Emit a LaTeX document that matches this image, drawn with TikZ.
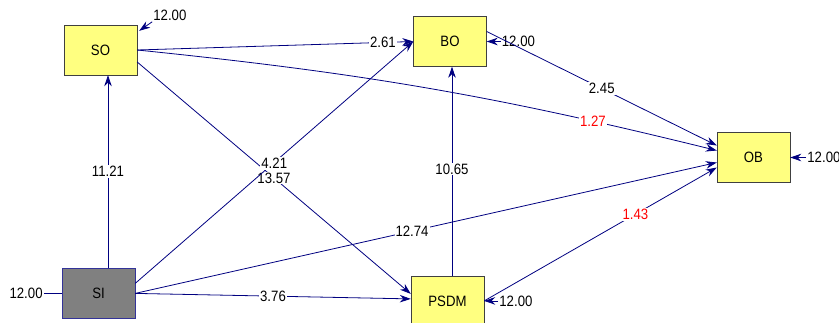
\documentclass[tikz,border=0pt]{standalone}
\usepackage{fontspec}
\setmainfont[FakeStretch=0.88]{Liberation Sans}
\usetikzlibrary{arrows.meta,positioning}
\definecolor{pathblue}{RGB}{0,0,128}
\definecolor{boxyellow}{RGB}{255,255,128}
\definecolor{latentgray}{RGB}{128,128,128}
\tikzset{->, % paths are directed
>={Stealth[length=11pt,width=7.5pt]}, % filled arrow heads
every node/.style={font=\fontsize{15}{17}\selectfont}, % one size for every text
}

\begin{document}
\begin{tikzpicture}[x=1pt, y=-1pt,
	var/.style={rectangle, draw=black!75, fill=boxyellow, minimum width=73pt, minimum height=50pt, inner sep=0pt},
	link/.style={draw=pathblue, line width=0.8pt},
	coef/.style={fill=white, inner sep=1pt},
	err/.style={inner sep=1pt}]
\useasboundingbox (0,0) rectangle (839,322);
\node[var] (SO) at (100.5,50) {SO};
\node[var, fill=latentgray, draw=pathblue!80, below=193pt of SO, xshift=-2pt] (SI) {SI};
\node[var] (BO) at (450,41.5) {BO};
\node[var, below=209pt of BO, xshift=-2.5pt] (PSDM) {PSDM};
\node[var] (OB) at (753.5,157.5) {OB};
% error terms
\node[err, anchor=south west] (eSO) at ([xshift=15pt,yshift=3pt]SO.north east) {12.00};
\node[err, right=14pt of BO] (eBO) {12.00};
\node[err, right=16pt of OB] (eOB) {12.00};
\node[err, right=14pt of PSDM] (ePSDM) {12.00};
\node[err, left=18pt of SI] (eSI) {12.00};
\draw[link] (eSO.south west) -- ([xshift=2pt,yshift=-6pt]SO.north east);
\draw[link] (eBO) -- (BO);
\draw[link] (eOB) -- (OB);
\draw[link] (ePSDM) -- (PSDM);
\draw[link, -] (eSI) -- (SI);
% paths
\draw[link] ([xshift=9.5pt]SI.north) -- node[coef, pos=.5] {11.21} ([xshift=9.5pt]SI.north |- SO.south);
\draw[link] ([xshift=4.5pt]PSDM.north) -- node[coef, pos=.51] {10.65} ([xshift=4.5pt]PSDM.north |- BO.south);
\draw[link] (SO.east) -- node[coef, pos=.89] {2.61} (BO.west);
\draw[link] (SO.east) to[bend left=4] node[coef, pos=.8, text=red] {1.27} ([yshift=7pt]OB.west);
\draw[link] ([yshift=-12pt]SO.east) -- node[coef, pos=.5] {13.57} ([yshift=7pt]PSDM.west);
\draw[link] ([yshift=10pt]SI.east) -- node[coef, pos=.5, yshift=-1pt] {4.21} (BO.west);
\draw[link] (SI.east) -- node[coef, pos=.476] {12.74} ([yshift=-5pt]OB.west);
\draw[link] (SI.east) -- node[coef, pos=.5] {3.76} ([yshift=2pt]PSDM.west);
\draw[link] ([yshift=10pt]BO.east) -- node[coef, pos=.5] {2.45} ([yshift=12pt]OB.west);
\draw[link] (PSDM.east) -- node[coef, pos=.65, text=red] {1.43} ([yshift=-10pt]OB.west);
\end{tikzpicture}
\end{document}
